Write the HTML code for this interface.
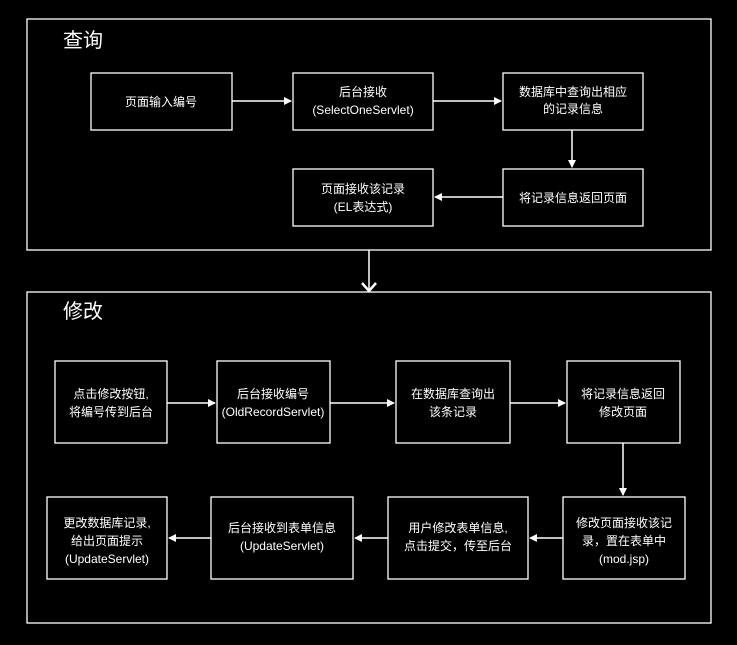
<!DOCTYPE html>
<html><head><meta charset="utf-8"><style>
html,body{margin:0;padding:0;background:#000;}
svg{display:block}
text{font-family:"Liberation Sans","Noto Sans CJK SC",sans-serif;fill:#fff;font-size:12px;text-anchor:middle}
.t{font-size:20px;text-anchor:start}
rect{fill:#000;stroke:#fff;stroke-width:1.3}
line{stroke:#fff;stroke-width:1.5}
</style></head><body>
<svg width="737" height="645" viewBox="0 0 737 645">
<defs><marker id="a" markerWidth="8" markerHeight="8" refX="7" refY="4" orient="auto" markerUnits="userSpaceOnUse"><path d="M0,0 L8,4 L0,8 z" fill="#fff"/></marker>
<marker id="v" markerWidth="14" markerHeight="10" refX="7" refY="9" orient="auto-start-reverse" markerUnits="userSpaceOnUse"></marker></defs>
<rect x="27" y="19" width="684" height="231" stroke-width="1.5"/>
<rect x="27" y="292" width="684" height="331" stroke-width="1.5"/>
<text class="t" x="63" y="47">查询</text>
<text class="t" x="63" y="318">修改</text>
<!-- top section -->
<rect x="91" y="73" width="141" height="57"/>
<text x="161" y="106">页面输入编号</text>
<rect x="293" y="73" width="140" height="57"/>
<text x="363" y="96">后台接收</text><text x="363" y="114">(SelectOneServlet)</text>
<rect x="503" y="73" width="140" height="57"/>
<text x="573" y="96">数据库中查询出相应</text><text x="573" y="113">的记录信息</text>
<rect x="503" y="169" width="140" height="57"/>
<text x="573" y="202">将记录信息返回页面</text>
<rect x="293" y="169" width="140" height="57"/>
<text x="363" y="193">页面接收该记录</text><text x="363" y="211">(EL表达式)</text>
<line x1="232" y1="101" x2="291" y2="101" marker-end="url(#a)"/>
<line x1="433" y1="101" x2="501" y2="101" marker-end="url(#a)"/>
<line x1="572" y1="130" x2="572" y2="167" marker-end="url(#a)"/>
<line x1="503" y1="197" x2="435" y2="197" marker-end="url(#a)"/>
<line x1="369" y1="250" x2="369" y2="291" stroke-width="2.5"/>
<path d="M362,283 L369,291 L376,283" fill="none" stroke="#fff" stroke-width="2.5"/>
<!-- bottom section -->
<rect x="55" y="361" width="112" height="82"/>
<text x="111" y="398">点击修改按钮,</text><text x="111" y="416">将编号传到后台</text>
<rect x="217" y="361" width="113" height="82"/>
<text x="273" y="398">后台接收编号</text><text x="273" y="416">(OldRecordServlet)</text>
<rect x="396" y="361" width="114" height="82"/>
<text x="453" y="398">在数据库查询出</text><text x="453" y="416">该条记录</text>
<rect x="567" y="361" width="113" height="82"/>
<text x="623" y="398">将记录信息返回</text><text x="623" y="416">修改页面</text>
<rect x="563" y="497" width="122" height="82"/>
<text x="624" y="527">修改页面接收该记</text><text x="624" y="545">录，置在表单中</text><text x="624" y="563">(mod.jsp)</text>
<rect x="388" y="497" width="140" height="82"/>
<text x="458" y="532">用户修改表单信息,</text><text x="458" y="550">点击提交，传至后台</text>
<rect x="211" y="497" width="142" height="82"/>
<text x="282" y="532">后台接收到表单信息</text><text x="282" y="550">(UpdateServlet)</text>
<rect x="47" y="497" width="120" height="82"/>
<text x="107" y="527">更改数据库记录,</text><text x="107" y="545">给出页面提示</text><text x="107" y="563">(UpdateServlet)</text>
<line x1="167" y1="403" x2="215" y2="403" marker-end="url(#a)"/>
<line x1="330" y1="403" x2="394" y2="403" marker-end="url(#a)"/>
<line x1="510" y1="403" x2="565" y2="403" marker-end="url(#a)"/>
<line x1="623" y1="443" x2="623" y2="495" marker-end="url(#a)"/>
<line x1="563" y1="538" x2="530" y2="538" marker-end="url(#a)"/>
<line x1="388" y1="538" x2="355" y2="538" marker-end="url(#a)"/>
<line x1="211" y1="538" x2="169" y2="538" marker-end="url(#a)"/>
</svg>
</body></html>
